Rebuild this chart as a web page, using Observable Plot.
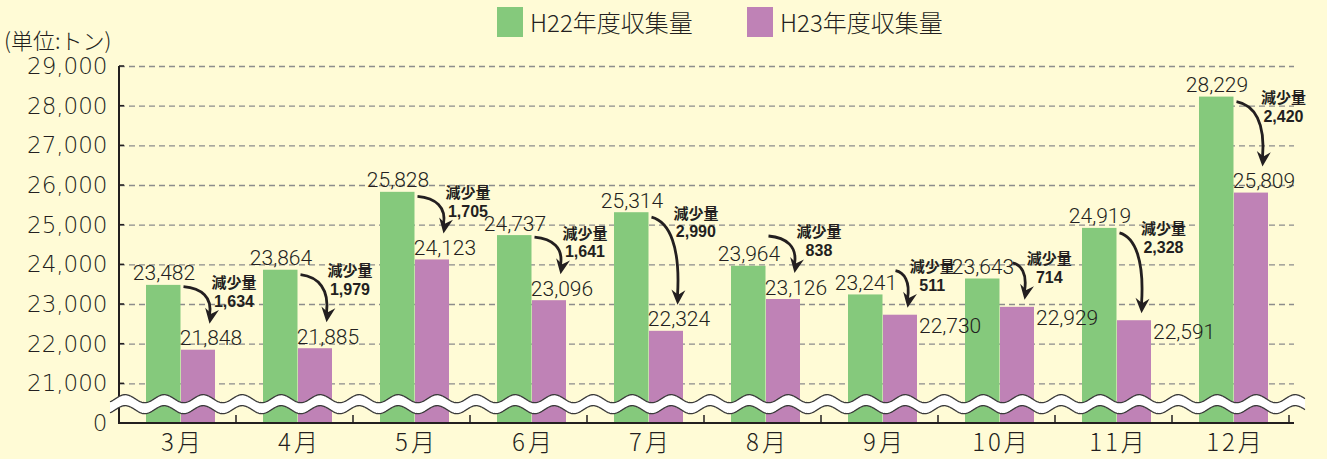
<!DOCTYPE html>
<html><head><meta charset="utf-8">
<script src="https://cdn.jsdelivr.net/npm/d3@7"></script>
<script src="https://cdn.jsdelivr.net/npm/@observablehq/plot@0.6"></script>
<style>
html,body{margin:0;padding:0;background:#fffbd6;}
#wrap{position:relative;width:1327px;height:459px;background:#fffbd6;overflow:hidden;}
#wrap svg{position:absolute;left:0;top:0;}
.lg{position:absolute;top:7px;display:flex;align-items:center;font-family:"Noto Sans CJK JP";font-weight:300;font-size:24px;color:#231f20;line-height:30px;}
.sw{width:26px;height:30px;margin-right:7px;}
#unit{position:absolute;left:4px;top:26px;font-family:"Noto Sans CJK JP";font-size:22px;font-weight:300;color:#231f20;line-height:26px;}
g[aria-label="x-axis tick label"] text{letter-spacing:3px;}
</style></head><body><div id="wrap"></div>
<script>
const months = ["3月","4月","5月","6月","7月","8月","9月","10月","11月","12月"];
const h22 = [23482, 23864, 25828, 24737, 25314, 23964, 23241, 23643, 24919, 28229];
const h23 = [21848, 21885, 24123, 23096, 22324, 23126, 22730, 22929, 22591, 25809];
const yTicks = [0, 21000, 22000, 23000, 24000, 25000, 26000, 27000, 28000, 29000];
const seriesNames = ["H22年度収集量", "H23年度収集量"];
const seriesColors = ["#85c97c", "#bf82b6"];
const unitLabel = "(単位:トン)";
const dropLabel = "減少量";

const BREAK = 20000;           // value drawn where "0" sits, below the axis break
const toY = v => (v === 0 ? BREAK : v);
const fmt = d3.format(",");
const INK = "#231f20";
const sideLabel = new Set(["9月", "10月", "11月"]);
const rows = months.map((m, i) => ({month: m, h22: h22[i], h23: h23[i], drop: h22[i] - h23[i]}));

function decor(index, scales, values, dim) {
  const {x, y} = scales;
  const step = x(months[1]) - x(months[0]);
  const left = dim.marginLeft, right = dim.width - dim.marginRight;
  const base = y(BREAK), top = y(29000);
  const g = d3.create("svg:g");
  g.append("path").attr("d", `M${left},${top}V${base}H${right}`)
    .attr("fill", "none").attr("stroke", INK).attr("stroke-width", 2);
  for (let k = 1; k <= months.length; k++) {
    const xx = left + k * step;
    g.append("line").attr("x1", xx).attr("x2", xx).attr("y1", base).attr("y2", base - 8)
      .attr("stroke", INK).attr("stroke-width", 1.5);
  }
  for (const v of yTicks) if (v > 0) {
    g.append("line").attr("x1", left).attr("x2", left + 5).attr("y1", y(v)).attr("y2", y(v))
      .attr("stroke", INK).attr("stroke-width", 1.5);
  }
  // wavy axis break
  const mid = (y(BREAK) + y(21000)) / 2 + 1;
  const P = step / 3, A = 4, half = 5.5;
  const xs = d3.range(left - 9, right + 12, 1);
  const wy = xx => A * Math.sin(2 * Math.PI * (xx - left - 16) / P);
  const topPts = xs.map(xx => [xx, mid - half + wy(xx)]);
  const botPts = xs.map(xx => [xx, mid + half + wy(xx)]);
  const line = d3.line();
  g.append("path").attr("d", line(topPts.concat(botPts.slice().reverse())) + "Z").attr("fill", "#ffffff");
  g.append("path").attr("d", line(topPts)).attr("fill", "none").attr("stroke", "#3a3a3a").attr("stroke-width", 1.3);
  g.append("path").attr("d", line(botPts)).attr("fill", "none").attr("stroke", "#3a3a3a").attr("stroke-width", 1.3);
  return g.node();
}

function bez(p0, p1, p2, p3, t) {
  const u = 1 - t;
  return [
    u*u*u*p0[0] + 3*u*u*t*p1[0] + 3*u*t*t*p2[0] + t*t*t*p3[0],
    u*u*u*p0[1] + 3*u*u*t*p1[1] + 3*u*t*t*p2[1] + t*t*t*p3[1]
  ];
}

function arrows(index, scales, values, dim) {
  const {x, y} = scales;
  const step = x(months[1]) - x(months[0]);
  const g = d3.create("svg:g");
  for (const r of rows) {
    const cx = x(r.month) + step / 2;
    const yg = y(r.h22), yp = y(r.h23);
    const side = sideLabel.has(r.month);
    const tx = side ? cx + 25 : cx + 29;
    const ty = side ? yp - 7 : yp - 26;
    const T = Math.min(yg + 2, ty - 40);
    const sy = T + 3;
    const sx = (sy > yg - 26 && sy < yg - 2) ? cx + 13 : cx + 3;
    const ey = ty - 9;
    const p0 = [sx, sy], c1 = [sx + 0.7 * (tx - sx), sy + 0.06 * (ey - sy)], c2 = [tx + 3, sy + 0.38 * (ey - sy)], p3 = [tx, ey];
    g.append("path").attr("d", `M${p0}C${c1} ${c2} ${p3}`)
      .attr("fill", "none").attr("stroke", INK).attr("stroke-width", 2.8);
    const ang = Math.atan2(ey - c2[1], tx - c2[0]);
    const ca = Math.cos(ang), sa = Math.sin(ang);
    const pt = (a, b) => [tx + a * ca - b * sa, ty + a * sa + b * ca];
    const p1 = pt(-15, -7), p2 = pt(-10, 0), pp3 = pt(-15, 7);
    g.append("path").attr("d", `M${tx},${ty}L${p1}L${p2}L${pp3}Z`).attr("fill", INK);
    // keep the annotation clear of the arrow's bulge
    let maxX = -Infinity;
    for (let t = 0; t <= 1; t += 0.02) {
      const [bx, by] = bez(p0, c1, c2, p3, t);
      if (by >= T - 9 && by <= T + 25) maxX = Math.max(maxX, bx);
    }
    const lx = Math.max(cx + 47, maxX + 24);
    g.append("text").attr("x", lx).attr("y", T - 1).attr("text-anchor", "middle").attr("dy", "0.36em")
      .attr("font-family", "Noto Sans CJK JP").attr("font-weight", 700).attr("font-size", 15).attr("fill", INK)
      .text(dropLabel);
    g.append("text").attr("x", lx).attr("y", T + 17.5).attr("text-anchor", "middle").attr("dy", "0.36em")
      .attr("font-family", "Liberation Sans").attr("font-weight", 700).attr("font-size", 16).attr("fill", INK)
      .text(fmt(r.drop));
  }
  return g.node();
}

const valueFont = {fontFamily: "Roboto, 'Liberation Sans', sans-serif", fontWeight: 300, fontSize: 21, fill: INK, ariaLabel: "value"};

const chart = Plot.plot({
  width: 1327, height: 459,
  marginLeft: 119, marginRight: 33, marginTop: 66, marginBottom: 36,
  style: {background: "transparent", color: INK, overflow: "visible"},
  x: {domain: months, padding: 0, label: null},
  y: {domain: [BREAK, 29000], label: null},
  marks: [
    Plot.ruleY(yTicks.filter(v => v > 0), {stroke: "#8c8c8c", strokeWidth: 1.4, strokeDasharray: "6,4"}),
    Plot.barY(rows, {x: "month", y1: () => BREAK, y2: "h22", fill: seriesColors[0], insetLeft: 24, insetRight: 58.5}),
    Plot.barY(rows, {x: "month", y1: () => BREAK, y2: "h23", fill: seriesColors[1], insetLeft: 59, insetRight: 24}),
    decor,
    Plot.axisY({ticks: yTicks.map(toY), tickFormat: v => (v === BREAK ? "0" : fmt(v)), tickSize: 0, tickPadding: 12,
      fontSize: 23, fontFamily: "'DejaVu Sans'", fontWeight: 200, label: null}),
    Plot.axisX({tickSize: 0, tickPadding: 10, fontSize: 24, dx: 1.5, fontFamily: "'Noto Sans CJK JP'", fontWeight: 300, label: null}),
    Plot.text(rows, {x: "month", y: "h22", text: d => fmt(d.h22), dx: -17, dy: -5, lineAnchor: "bottom", ...valueFont}),
    Plot.text(rows.filter(d => !sideLabel.has(d.month)), {x: "month", y: "h23", text: d => fmt(d.h23), dx: 30, dy: -5, lineAnchor: "bottom", ...valueFont}),
    Plot.text(rows.filter(d => sideLabel.has(d.month)), {x: "month", y: "h23", text: d => fmt(d.h23), dx: 36, dy: 3, lineAnchor: "top", textAnchor: "start", ...valueFont}),
    arrows
  ]
});

const wrap = document.getElementById("wrap");
wrap.appendChild(chart);
// condense the value labels horizontally, as in the original typeface
chart.querySelectorAll('g[aria-label="value"] text').forEach(t => {
  const len = t.getComputedTextLength();
  if (len > 0) { t.setAttribute("textLength", (len * 0.88).toFixed(1)); t.setAttribute("lengthAdjust", "spacingAndGlyphs"); }
});
const unit = document.createElement("div");
unit.id = "unit"; unit.textContent = unitLabel; wrap.appendChild(unit);
const legendLeft = [497, 747];
seriesNames.forEach((name, i) => {
  const item = document.createElement("div");
  item.className = "lg"; item.style.left = legendLeft[i] + "px";
  const sw = document.createElement("div"); sw.className = "sw"; sw.style.background = seriesColors[i];
  const t = document.createElement("span"); t.textContent = name;
  item.appendChild(sw); item.appendChild(t); wrap.appendChild(item);
});
</script></body></html>
